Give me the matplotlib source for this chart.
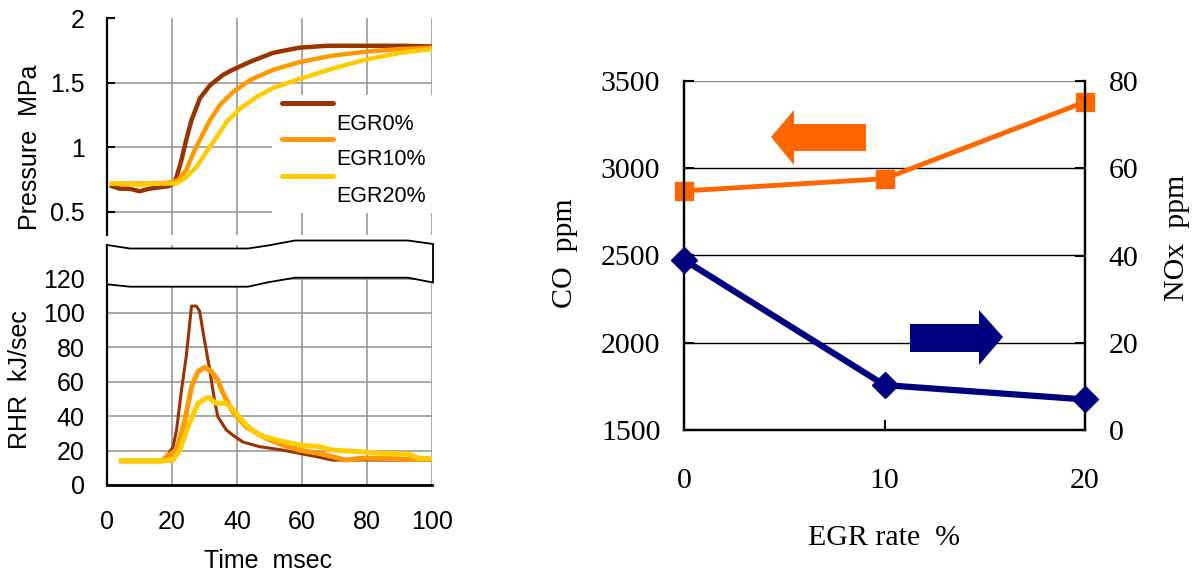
import numpy as np
import matplotlib
matplotlib.use("Agg")
import matplotlib.pyplot as plt
from matplotlib.patches import Polygon, Rectangle
from matplotlib.lines import Line2D

# ---- data: pressure / rate of heat release vs time ----
t_p0 = [1.5, 4, 7, 10, 13, 16, 19, 20.5, 21.4, 22.9, 24.4, 26, 28.6, 31.7, 35.7, 38.7, 43.9, 51, 59, 67.5, 80, 91, 100]
p0 = [0.70, 0.68, 0.68, 0.66, 0.68, 0.69, 0.70, 0.72, 0.77, 0.90, 1.06, 1.21, 1.38, 1.48, 1.56, 1.60, 1.66, 1.73, 1.77, 1.785, 1.785, 1.785, 1.78]
t_p10 = [1.5, 5, 10, 15, 20, 22, 24.4, 26.5, 28.6, 31.7, 34.8, 38.9, 44, 51.2, 59.4, 69.6, 79.9, 90.2, 100]
p10 = [0.72, 0.72, 0.72, 0.72, 0.73, 0.75, 0.825, 0.95, 1.06, 1.21, 1.33, 1.43, 1.52, 1.60, 1.66, 1.71, 1.74, 1.76, 1.77]
t_p20 = [1.5, 5, 10, 15, 20, 21.4, 24.4, 27.6, 30.7, 33.8, 36.9, 41, 46.1, 51.2, 59.4, 69.6, 79.9, 90.2, 100]
p20 = [0.72, 0.72, 0.71, 0.72, 0.72, 0.72, 0.77, 0.85, 0.97, 1.08, 1.20, 1.30, 1.39, 1.46, 1.53, 1.61, 1.68, 1.73, 1.76]

t_r0 = [4.5, 10, 17, 18.3, 20.3, 21.4, 22.9, 24.4, 26, 27.5, 28.5, 30, 31.6, 33.1, 34.1, 36.7, 38.7, 41.8, 46.9, 54, 64.4, 69.3, 75, 85, 100]
r0 = [14, 14, 14, 16.5, 22, 32, 55, 75, 104, 104, 101, 84, 67, 49, 39.7, 32, 29, 25, 22.3, 20.3, 16.5, 14.5, 14.5, 14.5, 14.5]
t_r10 = [4.5, 10, 17, 18.3, 21.4, 24, 26, 28, 30, 32.1, 34.1, 35.7, 38.7, 42.8, 49, 54, 59.2, 65.3, 69.3, 73.5, 77.6, 85, 92, 100]
r10 = [14, 14, 14, 16.5, 20.3, 37.8, 57, 65.9, 68.4, 66, 61, 53.3, 42.6, 33.9, 27.1, 23.3, 20.3, 18.4, 16.5, 14.5, 15.5, 15.5, 15, 15]
t_r20 = [4.5, 10, 17, 20.3, 22.4, 24.9, 28, 31.1, 33.6, 36.7, 39.8, 42.8, 46.9, 52, 59.2, 65.3, 69.3, 77.6, 84.7, 93, 96, 100]
r20 = [14, 14, 14, 14.5, 20.3, 33.9, 47.5, 51, 47.5, 47.5, 41.7, 34.9, 29, 26.2, 23.3, 22.3, 20.3, 19.4, 18.4, 17.9, 15.5, 15.5]

series_names = ["EGR0%", "EGR10%", "EGR20%"]
series_colors = ["#993300", "#FF9900", "#FFCC00"]

# ---- data: emissions vs EGR rate ----
egr_rate = [0, 10, 20]
co_ppm = [2870, 2940, 3380]
nox_ppm = [39, 10.3, 7]

W, H = 1198, 574
fig = plt.figure(figsize=(W / 100, H / 100), dpi=100)


def box(x0, y0, x1, y1):
    return [x0 / W, 1 - y1 / H, (x1 - x0) / W, (y1 - y0) / H]


def fpt(x, y):
    return (x / W, 1 - y / H)


sans = "Liberation Sans"
serif = "Liberation Serif"
grid_c = "#999999"

# ---------------- left: pressure ----------------
axp = fig.add_axes(box(107, 18, 432, 235))
axp.plot(t_p0, p0, color=series_colors[0], lw=3.2, zorder=2)
axp.plot(t_p10, p10, color=series_colors[1], lw=3.2, zorder=2)
axp.plot(t_p20, p20, color=series_colors[2], lw=3.2, zorder=2)
axp.set_xlim(0, 100)
axp.set_ylim(0.322, 2.0)
axp.set_xticks([0, 20, 40, 60, 80, 100])
axp.set_yticks([0.5, 1, 1.5, 2])
axp.set_yticklabels(["0.5", "1", "1.5", "2"], fontfamily=sans, fontsize=18)
axp.tick_params(axis="y", direction="in", length=6, width=1.5, pad=16)
axp.tick_params(axis="x", length=0, labelbottom=False)
axp.grid(True, color=grid_c, lw=1.2)
axp.get_ygridlines()[-1].set_visible(False)
for s in ["top", "right", "bottom"]:
    axp.spines[s].set_visible(False)
axp.spines["left"].set_linewidth(1.6)

# custom legend (line above each label)
axp.add_patch(Rectangle(fpt(272, 213), 160 / W, 118 / H, transform=fig.transFigure,
                        facecolor="white", edgecolor="none", zorder=3, clip_on=False))
for i, name in enumerate(series_names):
    ly = [103.3, 139.3, 175.7][i]
    ty = [125, 160, 196.7][i]
    axp.add_line(Line2D([282 / W, 333 / W], [1 - ly / H] * 2, transform=fig.transFigure,
                        color=series_colors[i], lw=3.6, solid_capstyle="round", zorder=4))
    axp.text(336 / W, 1 - ty / H, name, transform=fig.transFigure, fontsize=15.5,
             family=sans, va="center", ha="left", zorder=4)

fig.text(30 / W, 1 - 147 / H, "Pressure  MPa", rotation=90, ha="center", va="center",
         fontfamily=sans, fontsize=18)

# ---------------- left: RHR ----------------
axr = fig.add_axes(box(107, 245, 432, 485))
axr.plot(t_r0, r0, color=series_colors[0], lw=2.2, zorder=2)
axr.plot(t_r10, r10, color=series_colors[1], lw=3.6, zorder=2)
axr.plot(t_r20, r20, color=series_colors[2], lw=3.6, zorder=2)
axr.set_xlim(0, 100)
axr.set_ylim(0, 139.5)
axr.set_xticks([0, 20, 40, 60, 80, 100])
axr.set_xticklabels(["0", "20", "40", "60", "80", "100"], fontfamily=sans, fontsize=18)
axr.set_yticks([0, 20, 40, 60, 80, 100, 120])
axr.set_yticklabels(["0", "20", "40", "60", "80", "100", "120"], fontfamily=sans, fontsize=18)
axr.tick_params(axis="y", length=0, pad=16)
axr.tick_params(axis="x", length=0, pad=18)
axr.grid(True, color=grid_c, lw=1.2)
for s in ["top", "right"]:
    axr.spines[s].set_visible(False)
axr.spines["left"].set_linewidth(1.6)
axr.spines["bottom"].set_linewidth(2.0)

fig.text(20 / W, 1 - 380 / H, "RHR  kJ/sec", rotation=90, ha="center", va="center",
         fontfamily=sans, fontsize=18)
fig.text(268 / W, 1 - 561 / H, "Time  msec", ha="center", va="center",
         fontfamily=sans, fontsize=18)

# axis-break band between the two panels
brk = [(107, 245), (130, 248.5), (248, 248.5), (268, 245.5), (295, 240.5), (408, 240.5),
       (433, 244), (433, 282.5), (408, 277.7), (295, 277.7), (268, 282.3), (248, 286.7),
       (130, 286.7), (107, 284.3)]
fig.patches.append(Polygon([fpt(x, y) for x, y in brk], closed=True, transform=fig.transFigure,
                           facecolor="white", edgecolor="black", lw=1.3, zorder=10))

# ---------------- right: CO / NOx ----------------
axc = fig.add_axes(box(684, 81, 1085, 430))
axn = axc.twinx()
axc.plot(egr_rate, co_ppm, color="#FF6600", lw=3.5, marker="s", ms=13, zorder=3, clip_on=False)
axn.plot(egr_rate, nox_ppm, color="#000080", lw=4.5, marker="D", ms=13.5, zorder=3, clip_on=False)
axc.set_xlim(0, 20)
axc.set_ylim(1500, 3500)
axn.set_ylim(0, 80)
axc.set_xticks([0, 10, 20])
axc.set_xticklabels(["0", "10", "20"], fontfamily=serif, fontsize=21.5)
axc.set_yticks([1500, 2000, 2500, 3000, 3500])
axc.set_yticklabels(["1500", "2000", "2500", "3000", "3500"], fontfamily=serif, fontsize=21.5)
axn.set_yticks([0, 20, 40, 60, 80])
axn.set_yticklabels(["0", "20", "40", "60", "80"], fontfamily=serif, fontsize=21.5)
axc.tick_params(axis="y", direction="in", length=7, width=1.5, pad=17)
axn.tick_params(axis="y", direction="in", length=7, width=1.5, pad=17)
axc.tick_params(axis="x", direction="in", length=7, width=1.5, pad=27)
axc.yaxis.grid(True, color="black", lw=1.0)
axc.get_ygridlines()[-1].set_color("#888888")
for ax in (axc, axn):
    ax.spines["top"].set_visible(False)
    for s in ["left", "right", "bottom"]:
        ax.spines[s].set_linewidth(1.6)

fig.text(565 / W, 1 - 253 / H, "CO  ppm", rotation=90, ha="center", va="center",
         fontfamily=serif, fontsize=21.5)
fig.text(1177 / W, 1 - 238 / H, "NOx  ppm", rotation=90, ha="center", va="center",
         fontfamily=serif, fontsize=21.5)
fig.text(884 / W, 1 - 538 / H, "EGR rate  %", ha="center", va="center",
         fontfamily=serif, fontsize=21.5)

# direction arrows
left_arrow = [(771, 137), (794, 110), (794, 124), (866, 124), (866, 151), (794, 151), (794, 165)]
right_arrow = [(1003, 337), (979, 310), (979, 324), (910, 324), (910, 352), (979, 352), (979, 365)]
fig.patches.append(Polygon([fpt(x, y) for x, y in left_arrow], closed=True,
                           transform=fig.transFigure, facecolor="#FF6600", edgecolor="none"))
fig.patches.append(Polygon([fpt(x, y) for x, y in right_arrow], closed=True,
                           transform=fig.transFigure, facecolor="#000080", edgecolor="none"))

fig.savefig("out.png", dpi=100)
